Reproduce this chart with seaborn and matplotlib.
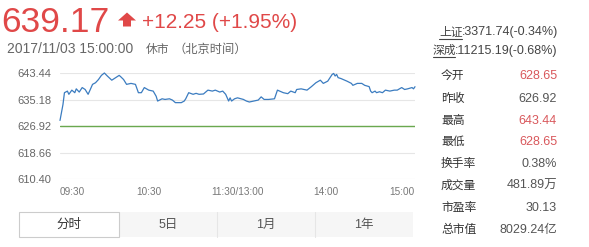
import matplotlib
matplotlib.use("Agg")
import matplotlib.pyplot as plt
import seaborn as sns
import pandas as pd
from matplotlib.patches import Polygon, Rectangle

# ---------------- data ----------------
minutes = [0, 2, 3, 5, 6, 8, 10, 11, 13, 15, 17, 19, 20, 22, 24, 26, 28, 30, 32, 35,
           37, 40, 41, 43, 45, 48, 51, 53, 55, 57, 60, 63, 65, 66, 69, 71, 74, 76, 78, 82,
           84, 85, 87, 90, 92, 94, 97, 100, 103, 105, 108, 110, 112, 114, 115, 116, 118, 120,
           124, 126, 128, 131, 134, 136, 138, 141, 145, 147, 149, 151, 154, 156, 159, 160,
           163, 167, 170, 173, 176, 178, 181, 184, 185, 186, 187, 188, 190, 194, 197, 198,
           201, 204, 206, 209, 210, 211, 213, 214, 216, 218, 220, 223, 226, 228, 231, 233,
           235, 238, 239, 240]
prices = [628.65, 633.6, 637.3, 637.8, 636.8, 638.1, 637.3, 638.5, 637.5, 638.9, 638.3, 636.8,
          637.8, 639.9, 640.4, 641.4, 642.7, 643.44, 642.5, 641.2, 641.8, 642.7, 642.3, 641.4,
          639.9, 640.2, 639.9, 637.3, 637.3, 638.9, 638.1, 637.8, 636.2, 634.7, 635.4, 635.2,
          635.4, 635.0, 634.2, 634.2, 634.7, 635.4, 637.3, 636.8, 637.1, 636.8, 636.9, 638.1,
          637.8, 638.1, 637.5, 637.8, 636.8, 634.7, 635.7, 634.7, 635.4, 635.7, 635.2, 634.7,
          634.4, 634.7, 635.0, 636.0, 635.2, 635.2, 635.4, 638.1, 637.7, 637.3, 637.0, 637.8,
          637.3, 638.3, 638.5, 638.1, 639.2, 640.4, 641.2, 640.2, 640.9, 643.0, 643.3, 642.5,
          643.0, 642.0, 641.7, 640.9, 640.2, 639.6, 640.2, 640.2, 639.6, 639.2, 637.8, 637.3,
          637.8, 637.3, 637.6, 637.3, 638.1, 637.8, 638.1, 638.1, 638.9, 638.3, 638.5, 638.9,
          638.5, 639.17]
prev_close = 626.92
y_ticks = [610.40, 618.66, 626.92, 635.18, 643.44]
x_tick_pos = [0, 60, 120, 180, 240]
x_tick_labels = ["09:30", "10:30", "11:30/13:00", "14:00", "15:00"]

last_price = "639.17"
change_text = "+12.25 (+1.95%)"
date_text = "2017/11/03 15:00:00"
status_text = "休市"
tz_text = "（北京时间）"
index_names = ["上证", "深成"]
index_values = [":3371.74(-0.34%)", ":11215.19(-0.68%)"]
stat_labels = ["今开", "昨收", "最高", "最低", "换手率", "成交量", "市盈率", "总市值"]
stat_values = ["628.65", "626.92", "643.44", "628.65", "0.38%", "481.89万", "30.13", "8029.24亿"]
stat_red = [True, False, True, True, False, False, False, False]
tabs = ["分时", "5日", "1月", "1年"]

# ---------------- style ----------------
sns.set_theme(style="white")
plt.rcParams['font.family'] = ['Liberation Sans', 'Noto Sans CJK SC', 'DejaVu Sans']

W, H = 589, 247
fig = plt.figure(figsize=(W / 100, H / 100), dpi=100)
fig.patch.set_facecolor("white")

# overlay in pixel coordinates
ov = fig.add_axes([0, 0, 1, 1])
ov.set_xlim(0, W)
ov.set_ylim(H, 0)
ov.axis("off")
ov.patch.set_alpha(0)

RED = "#e04848"
VRED = "#d9585c"
GRAY = "#666666"
DARK = "#333333"

# header
ov.text(1, 32, last_price, fontsize=25.5, color=RED, va="baseline", ha="left")
ov.add_patch(Polygon([[118, 20.5], [127, 12.5], [136, 20.5], [131, 20.5], [131, 26.5],
                      [123, 26.5], [123, 20.5]], closed=True, color=RED, lw=0))
ov.text(142, 28, change_text, fontsize=15, color=RED, va="baseline", ha="left")
ov.text(7, 52.5, date_text, fontsize=10, color=GRAY, va="baseline", ha="left")
ov.text(146, 52.5, status_text, fontsize=8.5, color=GRAY, va="baseline", ha="left")
ov.text(173, 52.5, tz_text, fontsize=8.8, color=GRAY, va="baseline", ha="left")

# index quotes
idx_y = [32.5, 50.5]
idx_name_x = [439, 433]
idx_val_x = [461.5, 455]
for nm, val, y, nx, vx in zip(index_names, index_values, idx_y, idx_name_x, idx_val_x):
    ov.text(nx, y, nm, fontsize=8.5, color="#444444", va="center", ha="left")
    ov.text(vx, y, val, fontsize=9, color="#444444", va="center", ha="left")
    ov.plot([nx, vx], [y + 6.5, y + 6.5], color="#444444", lw=0.8)

# stats table
row_y = [76, 98.5, 120.5, 142, 163.5, 186, 208, 229.5]
for lab, val, red, y in zip(stat_labels, stat_values, stat_red, row_y):
    ov.text(441, y, lab, fontsize=8.5, color=DARK, va="center", ha="left")
    ov.text(557, y, val, fontsize=9, color=VRED if red else "#555555", va="center", ha="right")

# tabs
tab_edges = [19, 119, 217, 315, 413]
ov.add_patch(Rectangle((119, 212), 294, 25, facecolor="#f6f6f6", edgecolor="none"))
for xe in tab_edges[2:4]:
    ov.plot([xe, xe], [212, 237], color="#e6e6e6", lw=0.8)
ov.add_patch(Rectangle((19, 212), 100, 25, facecolor="white", edgecolor="#cccccc", lw=0.8))
for i, t in enumerate(tabs):
    cx = (tab_edges[i] + tab_edges[i + 1]) / 2
    ov.text(cx, 224.5, t, fontsize=9, color=DARK if i == 0 else "#555555", va="center", ha="center")

# ---------------- chart ----------------
x0, x1 = 60, 415
ytop, ybot = 73, 179
ax = fig.add_axes([x0 / W, (H - ybot) / H, (x1 - x0) / W, (ybot - ytop) / H])
ax.patch.set_alpha(0)
df = pd.DataFrame({"minute": minutes, "price": prices})
sns.lineplot(data=df, x="minute", y="price", ax=ax, color="#3b7cc0", lw=0.9,
             clip_on=False, zorder=3)
ax.axhline(prev_close, color="#6aa84f", lw=1.0, zorder=2)
ax.set_xlim(0, 240)
ax.set_ylim(y_ticks[0], y_ticks[-1])
ax.set_yticks(y_ticks)
ax.set_yticklabels([f"{v:.2f}" for v in y_ticks])
ax.set_xticks(x_tick_pos)
ax.set_xticklabels(x_tick_labels)
ax.grid(axis="y", color="#e6e6e6", lw=0.8)
ax.grid(axis="x", visible=False)
for s in ax.spines.values():
    s.set_visible(False)
ax.set_xlabel("")
ax.set_ylabel("")
ax.tick_params(axis="y", length=0, pad=6, labelsize=8, labelcolor="#666666")
ax.tick_params(axis="x", direction="inout", length=5, width=0.6, color="#dddddd",
               pad=3, labelsize=7.2, labelcolor="#777777")
labs = ax.get_xticklabels()
labs[0].set_ha("left")
labs[-1].set_ha("right")

fig.savefig("out.png", dpi=100, facecolor="white")
